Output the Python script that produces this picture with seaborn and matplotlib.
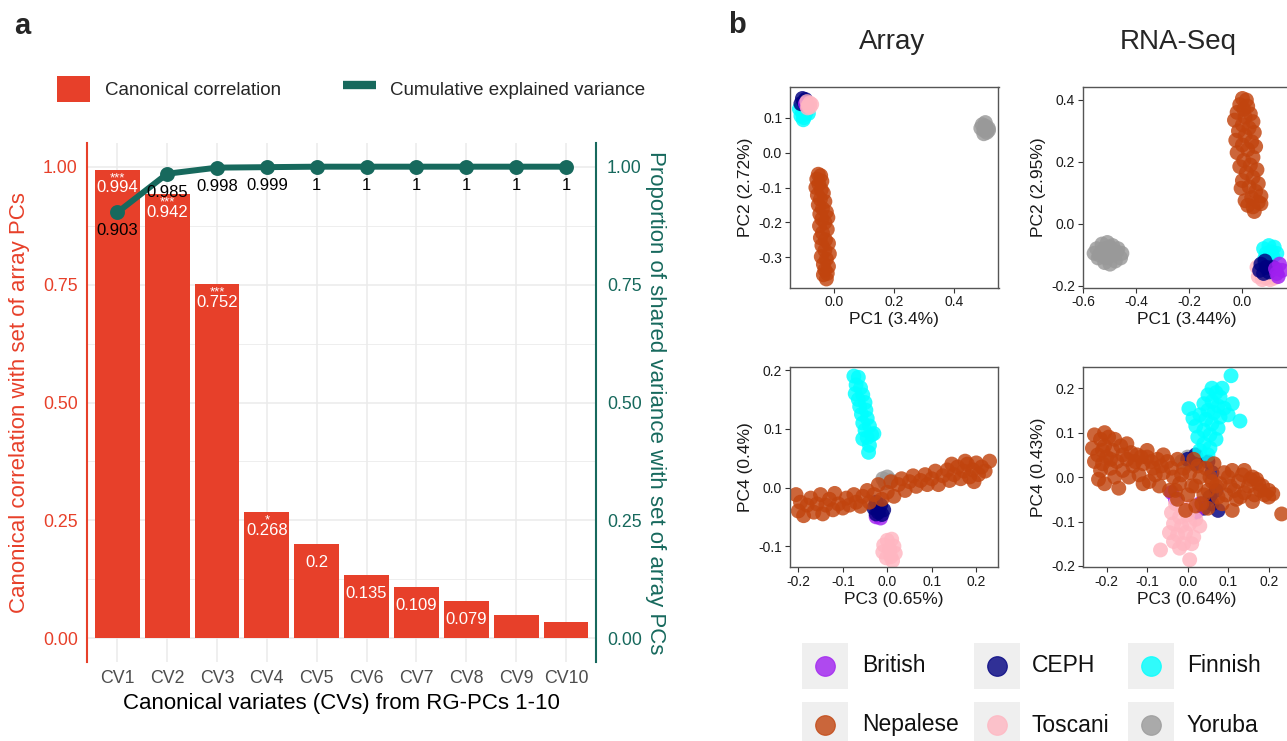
import numpy as np
import pandas as pd
import matplotlib.pyplot as plt
import seaborn as sns
from matplotlib.patches import Patch, Rectangle
from matplotlib.lines import Line2D

sns.set_theme(style="white")
plt.rcParams['font.family'] = ['Liberation Sans', 'DejaVu Sans']
plt.rcParams['axes.unicode_minus'] = False

# ==========================================================
# panel a: canonical correlation
# ==========================================================
cv_names = ["CV1", "CV2", "CV3", "CV4", "CV5", "CV6", "CV7", "CV8", "CV9", "CV10"]
canon_corr = [0.994, 0.942, 0.752, 0.268, 0.200, 0.135, 0.109, 0.079, 0.050, 0.035]
corr_labels = ["0.994", "0.942", "0.752", "0.268", "0.2", "0.135", "0.109", "0.079", "", ""]
corr_stars = ["***", "***", "***", "*", "", "", "", "", "", ""]
cum_var = [0.903, 0.985, 0.998, 0.999, 1.0, 1.0, 1.0, 1.0, 1.0, 1.0]
cum_labels = ["0.903", "0.985", "0.998", "0.999", "1", "1", "1", "1", "1", "1"]

# ==========================================================
# panel b: PCA clusters
# ==========================================================
# Array, PC1 vs PC2
a12_nepalese = [(-0.052, -0.062), (-0.044, -0.066), (-0.057, -0.076), (-0.040, -0.082), (-0.050, -0.090),
                (-0.060, -0.100), (-0.042, -0.106), (-0.035, -0.116), (-0.055, -0.122), (-0.045, -0.134),
                (-0.030, -0.140), (-0.052, -0.150), (-0.038, -0.160), (-0.025, -0.170), (-0.047, -0.176),
                (-0.020, -0.186), (-0.040, -0.190), (-0.030, -0.200), (-0.048, -0.210), (-0.022, -0.220),
                (-0.038, -0.230), (-0.045, -0.244), (-0.028, -0.250), (-0.018, -0.260), (-0.040, -0.266),
                (-0.030, -0.280), (-0.015, -0.290), (-0.042, -0.298), (-0.025, -0.305), (-0.035, -0.320),
                (-0.018, -0.326), (-0.030, -0.336), (-0.022, -0.346), (-0.035, -0.350), (-0.025, -0.362)]
a12_finnish = [(-0.115, 0.125), (-0.105, 0.115), (-0.095, 0.110), (-0.110, 0.105), (-0.100, 0.100),
               (-0.090, 0.120), (-0.085, 0.112), (-0.102, 0.094)]
a12_ceph = [(-0.105, 0.155), (-0.095, 0.152), (-0.100, 0.145), (-0.110, 0.140)]
a12_british = [(-0.095, 0.140), (-0.090, 0.134)]
a12_toscani = [(-0.090, 0.146), (-0.080, 0.142), (-0.086, 0.134), (-0.074, 0.138), (-0.088, 0.128), (-0.080, 0.130)]
a12_yoruba = [(0.495, 0.080), (0.505, 0.076), (0.515, 0.070), (0.500, 0.064), (0.490, 0.070),
              (0.510, 0.058), (0.500, 0.054), (0.516, 0.064), (0.505, 0.086)]

# RNA-Seq, PC1 vs PC2
r12_nepalese = [(0.000, 0.405), (0.015, 0.400), (-0.010, 0.385), (0.020, 0.380), (0.005, 0.370),
                (-0.020, 0.360), (0.030, 0.355), (0.010, 0.345), (-0.030, 0.335), (0.040, 0.330),
                (0.000, 0.320), (0.025, 0.310), (-0.015, 0.300), (0.045, 0.295), (0.010, 0.285),
                (-0.025, 0.270), (0.035, 0.265), (0.000, 0.255), (0.050, 0.250), (0.020, 0.240),
                (-0.020, 0.230), (0.040, 0.215), (0.005, 0.205), (0.030, 0.190), (-0.010, 0.185),
                (0.055, 0.175), (0.015, 0.165), (0.040, 0.150), (0.000, 0.140), (0.060, 0.130),
                (0.025, 0.120), (-0.005, 0.115), (0.050, 0.105), (0.070, 0.090), (0.035, 0.085),
                (0.010, 0.075), (0.060, 0.070), (0.040, 0.055), (0.020, 0.060), (0.045, 0.040), (0.070, 0.065)]
r12_yoruba = [(-0.550, -0.080), (-0.530, -0.065), (-0.510, -0.060), (-0.490, -0.070), (-0.470, -0.080),
              (-0.455, -0.095), (-0.460, -0.110), (-0.480, -0.120), (-0.500, -0.130), (-0.520, -0.125),
              (-0.545, -0.110), (-0.560, -0.095), (-0.530, -0.090), (-0.505, -0.095), (-0.485, -0.100),
              (-0.515, -0.110), (-0.500, -0.075), (-0.540, -0.100), (-0.475, -0.090), (-0.520, -0.080)]
r12_finnish = [(0.080, -0.080), (0.100, -0.070), (0.120, -0.075), (0.090, -0.095), (0.110, -0.090),
               (0.130, -0.095), (0.085, -0.110), (0.115, -0.105)]
r12_ceph = [(0.070, -0.130), (0.090, -0.140), (0.080, -0.160), (0.100, -0.155), (0.065, -0.150),
            (0.115, -0.140), (0.085, -0.120)]
r12_british = [(0.130, -0.160), (0.140, -0.130), (0.125, -0.145), (0.150, -0.150), (0.135, -0.170)]
r12_toscani = [(0.060, -0.170), (0.075, -0.180), (0.090, -0.175), (0.105, -0.180), (0.065, -0.155),
               (0.120, -0.175), (0.055, -0.140)]

# Array, PC3 vs PC4
a34_nepalese = [(-0.205, -0.012), (-0.200, -0.040), (-0.195, -0.025), (-0.188, -0.048), (-0.180, -0.030),
                (-0.172, -0.018), (-0.165, -0.042), (-0.158, -0.028), (-0.150, -0.012), (-0.145, -0.045),
                (-0.138, -0.030), (-0.130, -0.020), (-0.122, -0.038), (-0.118, -0.010), (-0.110, -0.028),
                (-0.100, -0.035), (-0.092, -0.018), (-0.085, -0.030), (-0.075, -0.012), (-0.070, -0.025),
                (-0.060, -0.032), (-0.055, -0.015), (-0.045, -0.005), (-0.040, -0.025), (-0.030, -0.012),
                (-0.020, 0.005), (-0.012, -0.020), (0.000, -0.008), (0.008, 0.010), (0.015, -0.015),
                (0.025, 0.005), (0.032, 0.015), (0.040, -0.005), (0.050, 0.010), (0.058, 0.020),
                (0.065, 0.002), (0.075, 0.012), (0.085, 0.022), (0.090, 0.005), (0.100, 0.015),
                (0.108, 0.028), (0.115, 0.005), (0.125, 0.020), (0.135, 0.030), (0.140, 0.012),
                (0.150, 0.022), (0.158, 0.035), (0.165, 0.015), (0.172, 0.028), (0.180, 0.040),
                (0.185, 0.018), (0.192, 0.030), (0.200, 0.042), (0.205, 0.022), (0.212, 0.035),
                (0.220, 0.028), (0.230, 0.045), (0.195, 0.010), (0.175, 0.045), (0.145, 0.040)]
a34_finnish = [(-0.075, 0.190), (-0.065, 0.188), (-0.070, 0.175), (-0.060, 0.170), (-0.072, 0.160),
               (-0.055, 0.158), (-0.065, 0.150), (-0.050, 0.145), (-0.062, 0.138), (-0.048, 0.132),
               (-0.058, 0.125), (-0.045, 0.118), (-0.055, 0.110), (-0.040, 0.105), (-0.050, 0.098),
               (-0.035, 0.090), (-0.045, 0.085), (-0.055, 0.083), (-0.040, 0.072), (-0.042, 0.060),
               (-0.030, 0.092)]
a34_toscani = [(0.000, -0.090), (0.010, -0.088), (-0.008, -0.098), (0.015, -0.100), (0.005, -0.105),
               (-0.010, -0.110), (0.018, -0.112), (0.008, -0.118), (-0.002, -0.120), (0.012, -0.125)]
a34_ceph = [(-0.025, -0.025), (-0.015, -0.030), (-0.030, -0.035), (-0.008, -0.038), (-0.020, -0.042),
            (-0.012, -0.046), (-0.025, -0.045)]
a34_british = [(-0.025, -0.050), (-0.015, -0.052)]
a34_yoruba = [(-0.010, 0.015), (0.000, 0.018), (0.008, 0.012), (-0.005, 0.008)]

# RNA-Seq, PC3 vs PC4
r34_nepalese = [(-0.230, 0.095), (-0.215, 0.085), (-0.235, 0.065), (-0.222, 0.050), (-0.205, 0.070),
                (-0.195, 0.090), (-0.210, 0.030), (-0.230, 0.035), (-0.200, 0.045), (-0.185, 0.060),
                (-0.190, 0.020), (-0.215, 0.015), (-0.205, -0.015), (-0.180, 0.000), (-0.175, 0.035),
                (-0.165, 0.070), (-0.160, 0.015), (-0.170, -0.025), (-0.150, 0.040), (-0.145, 0.000),
                (-0.135, 0.025), (-0.125, 0.050), (-0.120, 0.005), (-0.110, 0.030), (-0.100, 0.045),
                (-0.095, -0.010), (-0.085, 0.020), (-0.075, 0.040), (-0.070, -0.020), (-0.060, 0.010),
                (-0.050, 0.035), (-0.045, -0.030), (-0.035, 0.000), (-0.025, 0.040), (-0.020, -0.015),
                (-0.010, 0.020), (0.000, -0.040), (0.005, 0.010), (0.015, 0.040), (0.020, -0.020),
                (0.030, 0.000), (0.035, -0.060), (0.045, 0.020), (0.050, -0.030), (0.060, -0.010),
                (0.065, 0.030), (0.075, -0.045), (0.080, -0.015), (0.090, 0.010), (0.095, -0.040),
                (0.105, -0.020), (0.110, 0.015), (0.120, -0.050), (0.125, -0.010), (0.135, 0.005),
                (0.140, -0.035), (0.150, -0.020), (0.160, 0.000), (0.165, -0.040), (0.175, -0.015),
                (0.180, -0.030), (0.190, -0.040), (0.200, -0.030), (0.210, -0.038), (0.232, -0.083),
                (-0.005, -0.075), (0.020, -0.065), (-0.180, 0.085), (-0.150, 0.075), (-0.110, -0.015),
                (-0.220, -0.005), (0.140, 0.015), (-0.210, 0.060), (-0.190, 0.040), (-0.160, 0.050),
                (-0.140, 0.055), (-0.130, 0.035), (-0.115, 0.045), (-0.090, 0.035), (-0.080, 0.005),
                (-0.065, 0.025), (-0.040, 0.020), (-0.030, -0.030), (-0.015, 0.005), (0.010, -0.020),
                (0.025, 0.025), (0.040, -0.040), (0.055, 0.000), (0.070, -0.020), (0.085, -0.060),
                (0.100, 0.000), (0.115, -0.030), (0.130, -0.045), (0.155, -0.005), (0.170, -0.005),
                (0.185, -0.020), (0.200, -0.045), (0.160, -0.055), (0.110, -0.075), (0.050, -0.070),
                (-0.025, -0.050), (-0.205, 0.100), (-0.060, 0.050), (-0.100, 0.060)]
r34_finnish = [(0.060, 0.200), (0.070, 0.190), (0.050, 0.185), (0.080, 0.180), (0.060, 0.170),
               (0.040, 0.165), (0.075, 0.160), (0.090, 0.155), (0.050, 0.150), (0.065, 0.145),
               (0.030, 0.140), (0.080, 0.135), (0.045, 0.130), (0.060, 0.120), (0.020, 0.115),
               (0.075, 0.110), (0.040, 0.105), (0.055, 0.095), (0.025, 0.090), (0.070, 0.085),
               (0.040, 0.075), (0.055, 0.065), (0.030, 0.060), (0.050, 0.050), (0.107, 0.228),
               (0.003, 0.154), (0.129, 0.126), (0.013, 0.132), (0.100, 0.140), (0.110, 0.165), (0.085, 0.200)]
r34_toscani = [(-0.030, -0.060), (-0.010, -0.070), (0.010, -0.065), (-0.040, -0.080), (-0.020, -0.090),
               (0.000, -0.085), (0.020, -0.095), (-0.035, -0.105), (-0.015, -0.110), (0.005, -0.105),
               (0.030, -0.110), (-0.045, -0.125), (-0.025, -0.130), (-0.005, -0.125), (0.015, -0.135),
               (-0.035, -0.145), (-0.010, -0.150), (0.010, -0.150), (-0.067, -0.164), (0.005, -0.186),
               (-0.020, -0.160)]
r34_ceph = [(0.000, 0.040), (0.020, 0.050), (0.050, 0.035), (0.060, 0.010), (0.070, -0.030),
            (0.060, -0.060), (0.075, -0.075), (0.040, -0.070), (0.020, 0.030), (0.055, -0.045)]
r34_british = [(-0.040, -0.035), (0.020, -0.080), (0.030, -0.060), (-0.030, -0.050)]
r34_yoruba = [(-0.015, 0.035), (0.000, 0.045), (0.005, 0.030)]

pop_colors = {"British": "#A020F0", "CEPH": "#000080", "Finnish": "#00FFFF",
              "Nepalese": "#C1440E", "Toscani": "#FFB6C1", "Yoruba": "#999999"}
legend_rows = [["British", "CEPH", "Finnish"], ["Nepalese", "Toscani", "Yoruba"]]

bar_red = "#E7402A"
teal = "#17695D"

W, H = 1287, 741
fig = plt.figure(figsize=(W / 100, H / 100), dpi=100)


def px_box(left, top, right, bottom):
    return [left / W, 1 - bottom / H, (right - left) / W, (bottom - top) / H]


# ----------------------------------------------------------
# panel a
# ----------------------------------------------------------
df_a = pd.DataFrame({"cv": cv_names, "corr": canon_corr, "cum": cum_var})

ax = fig.add_axes(px_box(87.4, 143.1, 595.9, 661.9))
ax.set_axisbelow(True)
sns.barplot(data=df_a, x="cv", y="corr", color=bar_red, saturation=1, width=0.9,
            edgecolor="none", ax=ax, zorder=2)

ax2 = ax.twinx()
sns.pointplot(data=df_a, x="cv", y="cum", color=teal, errorbar=None,
              markers="o", markersize=7.5, linewidth=4.3, ax=ax2)

for a in (ax, ax2):
    a.set_ylim(-0.05, 1.05)
    a.set_xlim(-0.6, 9.6)
    a.set_yticks([0, 0.25, 0.5, 0.75, 1.0])
    a.set_yticklabels(["0.00", "0.25", "0.50", "0.75", "1.00"])
    for s in a.spines.values():
        s.set_visible(False)

ax.set_yticks([0.125, 0.375, 0.625, 0.875], minor=True)
ax.grid(which="major", color="#EBEBEB", linewidth=1.1)
ax.grid(which="minor", axis="y", color="#EBEBEB", linewidth=0.6)
ax.spines["left"].set_visible(True)
ax.spines["left"].set_color(bar_red)
ax.spines["left"].set_linewidth(1.5)
ax2.spines["right"].set_visible(True)
ax2.spines["right"].set_color(teal)
ax2.spines["right"].set_linewidth(1.5)

ax.tick_params(axis="y", which="both", length=0, pad=7, labelsize=12.8, labelcolor=bar_red)
ax2.tick_params(axis="y", which="both", length=0, pad=8, labelsize=12.8, labelcolor=teal)
ax.tick_params(axis="x", length=0, pad=6, labelsize=12.8, labelcolor="#4D4D4D")
ax.set_xlabel("Canonical variates (CVs) from RG-PCs 1-10", fontsize=16, labelpad=4, color="black")
ax.set_ylabel("")
ax2.set_ylabel("")

fig.text(20 / W, 1 - 402.5 / H, "Canonical correlation with set of array PCs",
         rotation=90, ha="center", va="center", fontsize=16, color=bar_red)
fig.text(655 / W, 1 - 402.5 / H, "Proportion of shared variance with set of array PCs",
         rotation=270, ha="center", va="center", fontsize=16, color=teal)

for i, (h, lbl, star) in enumerate(zip(canon_corr, corr_labels, corr_stars)):
    if lbl:
        ax.text(i, h - 0.039, lbl, ha="center", va="center", color="white", fontsize=12, zorder=3)
    if star:
        ax.text(i, h - 0.006, star, ha="center", va="top", color="white", fontsize=9.5, zorder=3)

for i, (v, lbl) in enumerate(zip(cum_var, cum_labels)):
    ax2.text(i, v - 0.039, lbl, ha="center", va="center", color="black", fontsize=12)

handles = [Patch(facecolor=bar_red, edgecolor="none", label="Canonical correlation"),
           Line2D([0], [0], color=teal, lw=6, solid_capstyle="butt", label="Cumulative explained variance")]
fig.legend(handles=handles, loc="center left", bbox_to_anchor=(56.7 / W, 1 - 89 / H),
           ncol=2, frameon=False, fontsize=13.5, handlelength=1.8, handleheight=1.8,
           handletextpad=0.75, columnspacing=3.3, borderaxespad=0, borderpad=0)

fig.text(22 / W, 1 - 26 / H, "a", fontsize=21, fontweight="bold", ha="center", va="center")
fig.text(737 / W, 1 - 25 / H, "b", fontsize=21, fontweight="bold", ha="center", va="center")

# ----------------------------------------------------------
# panel b
# ----------------------------------------------------------
def panel_df(groups):
    rows = []
    for pop, pts in groups:
        for x, y in pts:
            rows.append((pop, x, y))
    return pd.DataFrame(rows, columns=["pop", "x", "y"])


panels = [
    (px_box(789.8, 87.3, 998.5, 287.7),
     [("Finnish", a12_finnish), ("CEPH", a12_ceph), ("British", a12_british),
      ("Toscani", a12_toscani), ("Yoruba", a12_yoruba), ("Nepalese", a12_nepalese)],
     (-0.147, 0.549), (-0.387, 0.187), [0.0, 0.2, 0.4], [-0.3, -0.2, -0.1, 0.0, 0.1],
     "PC1 (3.4%)", "PC2 (2.72%)"),
    (px_box(1082.7, 87.3, 1291.4, 287.7),
     [("Yoruba", r12_yoruba), ("Toscani", r12_toscani), ("Finnish", r12_finnish),
      ("CEPH", r12_ceph), ("British", r12_british), ("Nepalese", r12_nepalese)],
     (-0.603, 0.185), (-0.206, 0.441), [-0.6, -0.4, -0.2, 0.0], [-0.2, 0.0, 0.2, 0.4],
     "PC1 (3.44%)", "PC2 (2.95%)"),
    (px_box(789.8, 367.3, 998.5, 567.3),
     [("Yoruba", a34_yoruba), ("British", a34_british), ("CEPH", a34_ceph),
      ("Toscani", a34_toscani), ("Finnish", a34_finnish), ("Nepalese", a34_nepalese)],
     (-0.219, 0.250), (-0.136, 0.205), [-0.2, -0.1, 0.0, 0.1, 0.2], [-0.1, 0.0, 0.1, 0.2],
     "PC3 (0.65%)", "PC4 (0.4%)"),
    (px_box(1082.7, 367.3, 1291.4, 567.3),
     [("Yoruba", r34_yoruba), ("CEPH", r34_ceph), ("British", r34_british),
      ("Toscani", r34_toscani), ("Finnish", r34_finnish), ("Nepalese", r34_nepalese)],
     (-0.259, 0.256), (-0.203, 0.247), [-0.2, -0.1, 0.0, 0.1, 0.2], [-0.2, -0.1, 0.0, 0.1, 0.2],
     "PC3 (0.64%)", "PC4 (0.43%)"),
]

for box, groups, xl, yl, xt, yt, xlab, ylab in panels:
    pax = fig.add_axes(box)
    df = panel_df(groups)
    sns.scatterplot(data=df, x="x", y="y", hue="pop", palette=pop_colors, s=115,
                    alpha=0.82, linewidth=0, legend=False, ax=pax)
    pax.set_xlim(*xl)
    pax.set_ylim(*yl)
    pax.set_xticks(xt)
    pax.set_yticks(yt)
    pax.set_xticklabels([f"{v:.1f}" for v in xt])
    pax.set_yticklabels([f"{v:.1f}" for v in yt])
    pax.set_facecolor("white")
    for s in pax.spines.values():
        s.set_color("#555555")
        s.set_linewidth(1.0)
    pax.tick_params(length=3.5, width=0.8, color="#333333", labelsize=10, pad=2,
                    labelcolor="#1A1A1A", bottom=True, left=True)
    pax.set_xlabel(xlab, fontsize=12.5, labelpad=2, color="#1A1A1A")
    pax.set_ylabel(ylab, fontsize=12.5, labelpad=4, color="#1A1A1A")

fig.text(892 / W, 1 - 42 / H, "Array", fontsize=20, ha="center", va="center")
fig.text(1178 / W, 1 - 42 / H, "RNA-Seq", fontsize=20, ha="center", va="center")

# legend for populations, drawn in pixel coordinates
lax = fig.add_axes([0, 0, 1, 1])
lax.set_xlim(0, W)
lax.set_ylim(H, 0)
lax.axis("off")
key_x = [802, 974, 1128]
text_x = [862, 1032, 1187]
row_y = [643, 702]
for r, row in enumerate(legend_rows):
    for c, pop in enumerate(row):
        lax.add_patch(Rectangle((key_x[c], row_y[r]), 46, 46, facecolor="#EFEFEF", edgecolor="none"))
        lax.scatter([key_x[c] + 23], [row_y[r] + 23], s=200, color=pop_colors[pop], alpha=0.8,
                    edgecolor=pop_colors[pop], linewidth=0.8)
        lax.text(text_x[c], row_y[r] + 23, pop, fontsize=16.5, ha="left", va="center", color="#111111")

fig.savefig("out.png", dpi=100)
